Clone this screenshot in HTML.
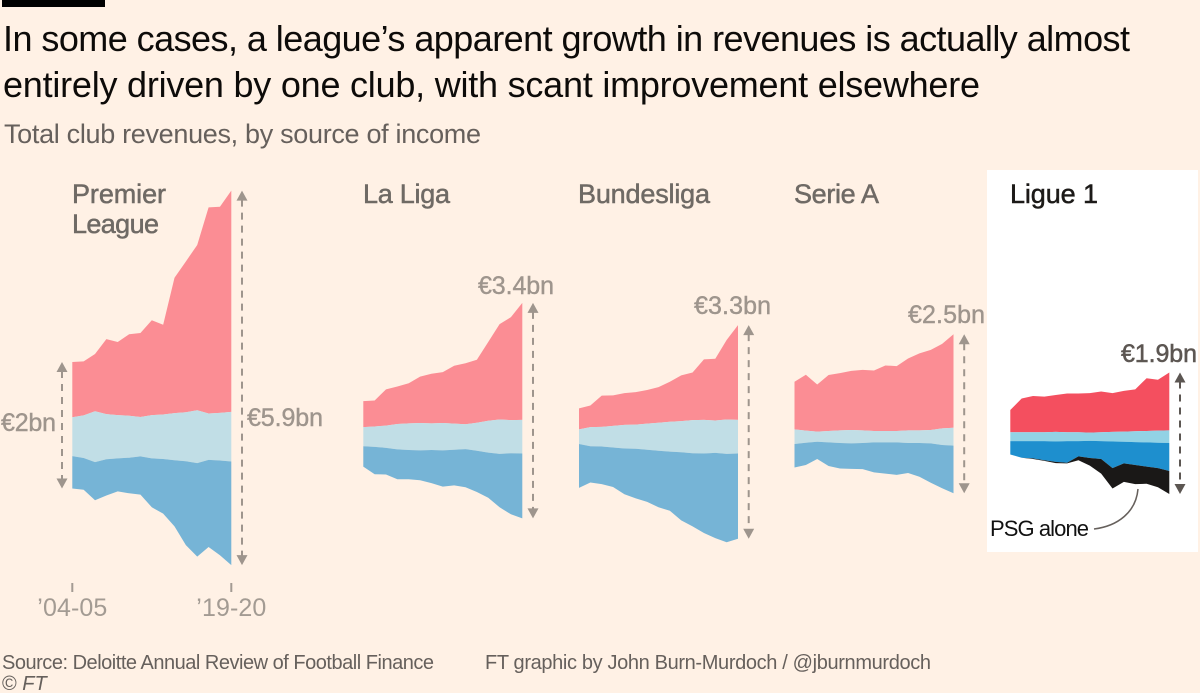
<!DOCTYPE html>
<html lang="en">
<head>
<meta charset="utf-8">
<title>League revenues by source of income</title>
<style>
  html, body { margin: 0; padding: 0; background: #fff1e5; }
  body { width: 1200px; height: 693px; overflow: hidden; }
  svg { display: block; font-family: "Liberation Sans", sans-serif; }
  .title { font-size: 36px; fill: #0d0b09; }
  .subtitle { font-size: 27px; fill: #66605c; }
  .league { font-size: 27px; fill: #6f6a65; stroke: #6f6a65; stroke-width: 0.5px; }
  .league-hi { font-size: 27px; fill: #1c1a18; stroke: #1c1a18; stroke-width: 0.5px; }
  .value { font-size: 25px; fill: #9e958d; stroke: #9e958d; stroke-width: 0.4px; }
  .value-hi { font-size: 25px; fill: #5c5652; stroke: #5c5652; stroke-width: 0.5px; }
  .tick-label { font-size: 25px; fill: #a39b93; }
  .note { font-size: 22px; fill: #111; }
  .foot { font-size: 20px; fill: #66605c; }
</style>
</head>
<body>
<svg id="chart" width="1200" height="693" viewBox="0 0 1200 693" xmlns="http://www.w3.org/2000/svg">
  <rect x="0" y="0" width="1200" height="693" fill="#fff1e5"/>
  <rect x="2" y="0" width="103" height="7" fill="#000"/>
  <text class="title" x="3" y="51" textLength="1127" lengthAdjust="spacing">In some cases, a league’s apparent growth in revenues is actually almost</text>
  <text class="title" x="3" y="97" textLength="977" lengthAdjust="spacing">entirely driven by one club, with scant improvement elsewhere</text>
  <text class="subtitle" x="4" y="143" textLength="477" lengthAdjust="spacing">Total club revenues, by source of income</text>

  <rect x="987" y="170" width="211" height="382" fill="#ffffff"/>
  <g id="marks"></g>

  <text class="league" x="72" y="203" textLength="94" lengthAdjust="spacing">Premier</text>
  <text class="league" x="72" y="233" textLength="87" lengthAdjust="spacing">League</text>
  <text class="league" x="363" y="203" textLength="87" lengthAdjust="spacing">La Liga</text>
  <text class="league" x="578" y="203" textLength="132" lengthAdjust="spacing">Bundesliga</text>
  <text class="league" x="794" y="203" textLength="85" lengthAdjust="spacing">Serie A</text>
  <text class="league-hi" x="1010" y="203" textLength="88" lengthAdjust="spacing">Ligue 1</text>

  <text class="value" x="1" y="431" textLength="55" lengthAdjust="spacing">€2bn</text>
  <text class="value" x="247" y="426" textLength="76" lengthAdjust="spacing">€5.9bn</text>
  <text class="value" x="478" y="294" textLength="76" lengthAdjust="spacing">€3.4bn</text>
  <text class="value" x="694" y="314" textLength="77" lengthAdjust="spacing">€3.3bn</text>
  <text class="value" x="908" y="323" textLength="77" lengthAdjust="spacing">€2.5bn</text>
  <text class="value-hi" x="1121" y="362" textLength="76" lengthAdjust="spacing">€1.9bn</text>

  <text class="note" x="990" y="536" textLength="99" lengthAdjust="spacing">PSG alone</text>
  <path d="M1138 489 C1136 512 1118 526 1094 529" fill="none" stroke="#66605c" stroke-width="1.5"/>

  <text class="foot" x="2" y="669" textLength="432" lengthAdjust="spacing">Source: Deloitte Annual Review of Football Finance</text>
  <text class="foot" x="485" y="669" textLength="446" lengthAdjust="spacing">FT graphic by John Burn-Murdoch / @jburnmurdoch</text>
  <text class="foot" x="2" y="690">© <tspan font-style="italic">FT</tspan></text>
</svg>

<script>
// Seasons along the x axis (one point per season shown in the chart)
const seasons = ["04-05","05-06","06-07","07-08","08-09","09-10","10-11","11-12","12-13","13-14","14-15","15-16","16-17","17-18","19-20"];
const tickSeasons = ["04-05","19-20"];
const tickLabels = ["’04-05","’19-20"];

// Values in € billions
const plBroadcast = [0.87,0.85,0.90,1.18,1.15,1.28,1.32,1.49,1.41,2.13,2.37,2.60,3.24,3.24,3.48];
const plMatchday  = [0.61,0.67,0.80,0.71,0.68,0.66,0.62,0.68,0.70,0.74,0.77,0.83,0.73,0.75,0.78];
const plCommercial= [0.51,0.50,0.60,0.57,0.52,0.56,0.60,0.77,0.86,1.04,1.32,1.47,1.37,1.49,1.63];

const llBroadcast = [0.41,0.41,0.57,0.59,0.63,0.73,0.78,0.80,0.91,0.96,0.99,1.24,1.50,1.62,1.84];
const llMatchday  = [0.30,0.32,0.35,0.40,0.42,0.43,0.42,0.43,0.41,0.39,0.44,0.50,0.54,0.52,0.53];
const llCommercial= [0.32,0.43,0.42,0.47,0.46,0.47,0.52,0.57,0.56,0.60,0.65,0.71,0.84,0.96,1.02];

const blBroadcast = [0.33,0.34,0.49,0.48,0.50,0.51,0.53,0.56,0.63,0.72,0.75,0.95,0.97,1.25,1.49];
const blMatchday  = [0.23,0.30,0.31,0.34,0.37,0.38,0.41,0.44,0.47,0.49,0.52,0.53,0.51,0.54,0.53];
const blCommercial= [0.69,0.57,0.59,0.62,0.72,0.78,0.82,0.89,0.93,1.07,1.15,1.25,1.34,1.39,1.34];

const saBroadcast = [0.75,0.88,0.74,0.88,0.90,0.93,0.95,0.95,1.03,1.02,1.13,1.21,1.26,1.33,1.47];
const saMatchday  = [0.23,0.19,0.16,0.18,0.20,0.21,0.20,0.18,0.18,0.18,0.20,0.20,0.21,0.26,0.28];
const saCommercial= [0.37,0.35,0.27,0.37,0.40,0.40,0.41,0.47,0.49,0.51,0.47,0.53,0.62,0.68,0.75];

const l1Broadcast = [0.35,0.53,0.57,0.56,0.58,0.61,0.61,0.62,0.64,0.61,0.64,0.66,0.83,0.80,0.91];
const l1Matchday  = [0.14,0.14,0.14,0.14,0.15,0.14,0.14,0.13,0.14,0.15,0.16,0.17,0.18,0.19,0.20];
const l1Commercial= [0.21,0.26,0.27,0.30,0.32,0.34,0.24,0.27,0.28,0.42,0.34,0.36,0.38,0.40,0.44];
const l1PsgOnly   = [0.00,0.00,0.01,0.01,0.02,0.01,0.06,0.12,0.23,0.32,0.29,0.30,0.27,0.30,0.36];

const SVG_NS = "http://www.w3.org/2000/svg";
const marks = document.getElementById("marks");
const PX_PER_BN = 63.6;
const CENTER_Y = 436.7;
const PANEL_WIDTH = 159;

const yUp = v => CENTER_Y - v * PX_PER_BN;
const yDown = v => CENTER_Y + v * PX_PER_BN;
const xScale = (x0, i) => x0 + i / (seasons.length - 1) * PANEL_WIDTH;

function sumAt(arrays, i) {
  let s = 0;
  for (const a of arrays) s += a[i];
  return s;
}

function bandPath(x0, edgeA, edgeB) {
  let d = "";
  for (let i = 0; i < seasons.length; i++) {
    d += (i ? "L" : "M") + xScale(x0, i).toFixed(2) + " " + edgeA(i).toFixed(2);
  }
  for (let i = seasons.length - 1; i >= 0; i--) {
    d += "L" + xScale(x0, i).toFixed(2) + " " + edgeB(i).toFixed(2);
  }
  return d + "Z";
}

function drawBand(name, color, d) {
  const p = document.createElementNS(SVG_NS, "path");
  p.setAttribute("d", d);
  p.setAttribute("fill", color);
  
  
  marks.appendChild(p);
}

function drawArrow(name, x, top, bottom, color) {
  const g = document.createElementNS(SVG_NS, "g");
  
  
  const line = document.createElementNS(SVG_NS, "line");
  line.setAttribute("x1", x);
  line.setAttribute("x2", x);
  line.setAttribute("y1", top + 9);
  line.setAttribute("y2", bottom - 9);
  line.setAttribute("stroke", color);
  line.setAttribute("stroke-width", "2");
  line.setAttribute("stroke-dasharray", "7 6");
  g.appendChild(line);
  const up = document.createElementNS(SVG_NS, "polygon");
  up.setAttribute("points", `${x},${top} ${x + 5.5},${top + 10} ${x - 5.5},${top + 10}`);
  up.setAttribute("fill", color);
  g.appendChild(up);
  const down = document.createElementNS(SVG_NS, "polygon");
  down.setAttribute("points", `${x},${bottom} ${x + 5.5},${bottom - 10} ${x - 5.5},${bottom - 10}`);
  down.setAttribute("fill", color);
  g.appendChild(down);
  marks.appendChild(g);
}

function drawLeague(key, x0, top, mid, lows, colors, arrowColor) {
  const upper = i => mid[i] / 2 + top[i];
  drawBand(key + "-broadcast-area", colors[0], bandPath(x0, i => yUp(upper(i)), i => yUp(mid[i] / 2)));
  drawBand(key + "-matchday-area", colors[1], bandPath(x0, i => yUp(mid[i] / 2), i => yDown(mid[i] / 2)));
  let prior = [];
  lows.forEach((arr, k) => {
    const before = prior.slice();
    const upperEdge = i => yDown(mid[i] / 2 + sumAt(before, i));
    const lowerEdge = i => yDown(mid[i] / 2 + sumAt(before, i) + arr[i]);
    drawBand(key + (k === 0 ? "-commercial-area" : "-psg-commercial-area"), colors[2 + k], bandPath(x0, upperEdge, lowerEdge));
    prior.push(arr);
  });
  const last = seasons.length - 1;
  drawArrow(key + "-total-arrow", x0 + PANEL_WIDTH + 10.7, yUp(upper(last)), yDown(mid[last] / 2 + sumAt(lows, last)), arrowColor);
}

const softColors = ["#fb8d94", "#c1dee6", "#76b4d6"];
const strongColors = ["#f44f5f", "#92d2e5", "#1e8fce", "#1a1817"];
const arrowGrey = "#9e958d";

drawLeague("premier-league", 72.3, plBroadcast, plMatchday, [plCommercial], softColors, arrowGrey);
drawLeague("la-liga", 363.3, llBroadcast, llMatchday, [llCommercial], softColors, arrowGrey);
drawLeague("bundesliga", 579, blBroadcast, blMatchday, [blCommercial], softColors, arrowGrey);
drawLeague("serie-a", 794.5, saBroadcast, saMatchday, [saCommercial], softColors, arrowGrey);
drawLeague("ligue-1", 1010.3, l1Broadcast, l1Matchday, [l1Commercial, l1PsgOnly], strongColors, "#5c5652");

// Premier League start-of-period arrow
drawArrow("premier-league-start-arrow", 62,
  yUp(plMatchday[0] / 2 + plBroadcast[0]),
  yDown(plMatchday[0] / 2 + plCommercial[0]), arrowGrey);

// Time axis ticks, under the Premier League panel
tickSeasons.forEach((season, k) => {
  const x = xScale(72.3, seasons.indexOf(season));
  const tick = document.createElementNS(SVG_NS, "line");
  tick.setAttribute("x1", x);
  tick.setAttribute("x2", x);
  tick.setAttribute("y1", 583);
  tick.setAttribute("y2", 592);
  tick.setAttribute("stroke", "#a39b93");
  tick.setAttribute("stroke-width", "2");
  
  
  marks.appendChild(tick);
  const label = document.createElementNS(SVG_NS, "text");
  label.setAttribute("x", x);
  label.setAttribute("y", 616);
  label.setAttribute("text-anchor", "middle");
  label.setAttribute("class", "tick-label");
  label.setAttribute("textLength", "70");
  label.setAttribute("lengthAdjust", "spacing");
  
  
  label.textContent = tickLabels[k];
  marks.appendChild(label);
});
</script>
</body>
</html>
